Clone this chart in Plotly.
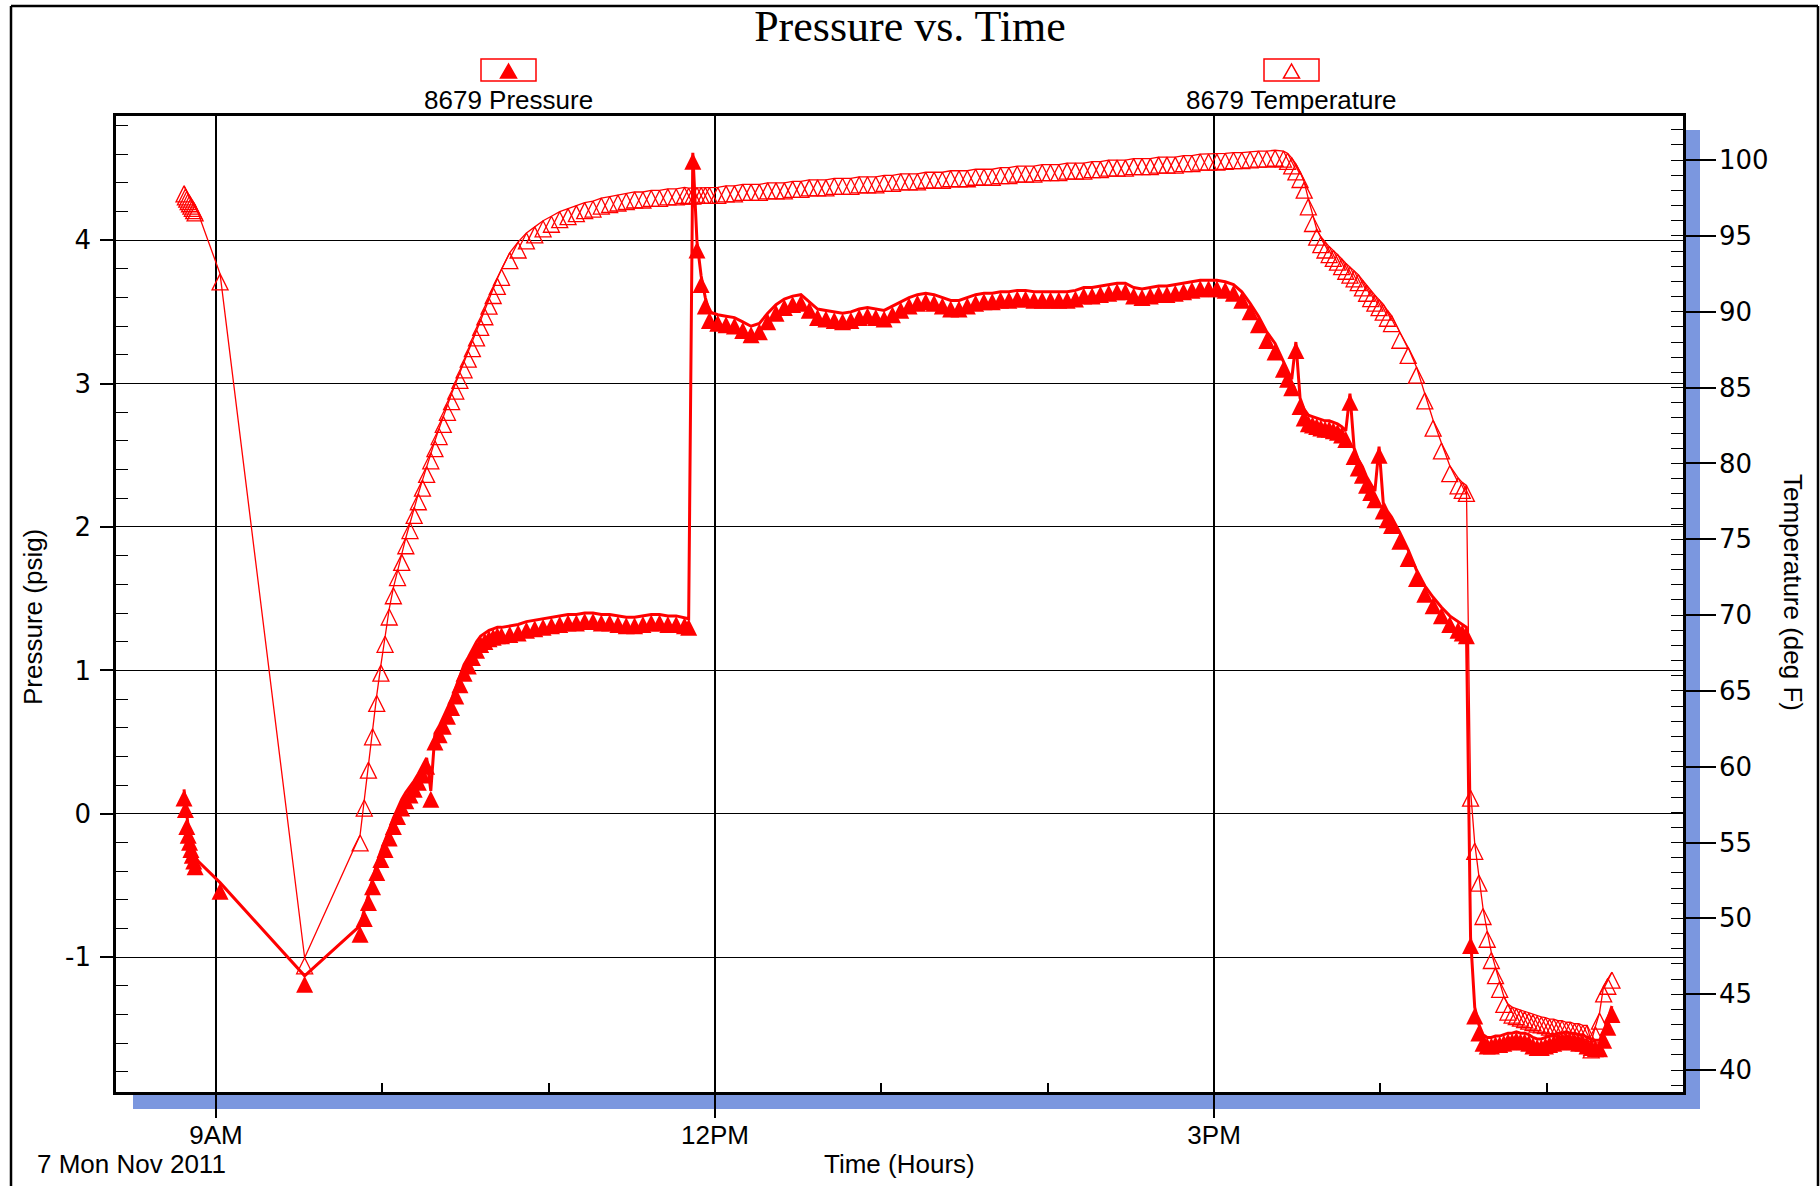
import plotly.graph_objects as go
import pandas as pd

# ---------------- data ----------------
log_date = "2011-11-07"

minutes_of_day = [
    528.5, 529, 529.5, 530, 530.5, 531, 531.5, 532, 532.5,
    541.5, 572,
    592, 593.5, 595, 596.5, 598, 599.5, 601, 602.5, 604, 605.5, 607, 608.5, 610, 611.5,
    613, 614.5, 616, 617.5, 619, 620.5, 622, 623.5, 625, 626.5, 628, 629.5, 631, 632.5,
    634, 635.5, 637, 638.5, 640, 641.5, 643,
    646, 649, 652, 655, 658, 661, 664, 667, 670, 673, 676, 679, 682, 685, 688, 691, 694,
    697, 700, 703, 706, 709,
    710.5, 712, 713.5, 715, 716.5, 718,
    721, 724, 727, 730, 733, 736, 739, 742, 745, 748, 751, 754, 757, 760, 763, 766, 769,
    772, 775, 778, 781, 784, 787, 790, 793, 796, 799, 802, 805, 808, 811, 814, 817, 820,
    823, 826, 829, 832, 835, 838, 841, 844, 847, 850, 853, 856, 859, 862, 865, 868, 871,
    874, 877, 880, 883, 886, 889, 892, 895, 898,
    901, 904, 907, 910, 913, 916, 919, 922, 925,
    926.5, 928, 929.5, 931, 932.5, 934, 935.5, 937, 938.5, 940, 941.5, 943, 944.5, 946,
    947.5, 949, 950.5, 952, 953.5, 955, 956.5, 958, 959.5, 961, 962.5, 964,
    967, 970, 973, 976, 979, 982, 985, 988,
    989.5, 991, 992.5, 994, 995.5, 997, 998.5, 1000, 1001.5, 1003, 1004.5, 1006, 1007.5,
    1009, 1010.5, 1012, 1013.5, 1015, 1016.5, 1018, 1019.5, 1021, 1022.5, 1024, 1025.5,
    1027, 1028.5, 1030, 1031.5, 1033, 1034.5, 1036, 1037.5, 1039, 1040.5, 1042, 1043.5,
]

pressure_psig = [
    0.17, 0.09, -0.03, -0.09, -0.14, -0.19, -0.23, -0.27, -0.31,
    -0.48, -1.13,
    -0.78, -0.67, -0.56, -0.45, -0.35, -0.26, -0.19, -0.11, -0.03, 0.04,
    0.10, 0.15, 0.19, 0.23, 0.28, 0.33, 0.39, 0.16, 0.56, 0.61,
    0.67, 0.74, 0.80, 0.88, 0.96, 1.04, 1.09, 1.15, 1.20, 1.24,
    1.26, 1.28, 1.29, 1.30, 1.30,
    1.31, 1.32, 1.34, 1.35, 1.36, 1.37, 1.38, 1.39, 1.39, 1.40, 1.40, 1.39, 1.39, 1.38,
    1.37, 1.37, 1.38, 1.39, 1.39, 1.38, 1.38, 1.37,
    1.36, 4.61, 3.99, 3.75, 3.60, 3.50,
    3.48, 3.47, 3.46, 3.43, 3.40, 3.42, 3.49, 3.55, 3.59, 3.61,
    3.62, 3.57, 3.52, 3.51, 3.50, 3.49, 3.50, 3.52, 3.53, 3.52,
    3.51, 3.54, 3.57, 3.60, 3.62, 3.63, 3.62, 3.60, 3.58, 3.58,
    3.60, 3.62, 3.63, 3.63, 3.64, 3.64, 3.65, 3.65, 3.64, 3.64,
    3.64, 3.64, 3.64, 3.65, 3.67, 3.67, 3.68, 3.69, 3.70, 3.70,
    3.67, 3.66, 3.67, 3.68, 3.68, 3.69, 3.70, 3.71, 3.72, 3.72,
    3.72, 3.71, 3.69, 3.64, 3.56, 3.47, 3.36, 3.28, 3.16,
    3.09, 3.03, 3.29, 2.90, 2.82, 2.78, 2.77, 2.76, 2.75, 2.74,
    2.74, 2.73, 2.72, 2.70, 2.67, 2.93, 2.55, 2.47, 2.42, 2.35,
    2.30, 2.25, 2.56, 2.17, 2.11, 2.07,
    1.96, 1.84, 1.70, 1.59, 1.51, 1.44, 1.38, 1.34,
    1.32, 1.30, -0.86, -1.35, -1.47, -1.54, -1.56, -1.56, -1.55, -1.55,
    -1.54, -1.53, -1.53, -1.52, -1.53, -1.53, -1.54, -1.56, -1.57, -1.57,
    -1.56, -1.55, -1.54, -1.53, -1.53, -1.52, -1.53, -1.53, -1.54, -1.54,
    -1.56, -1.57, -1.58, -1.58, -1.52, -1.43, -1.34,
]

temperature_degF = [
    98.3, 98.1, 97.95, 97.8, 97.65, 97.5, 97.35, 97.2, 97.05,
    92.5, 47.4,
    55.5, 57.8, 60.3, 62.5, 64.7, 66.7, 68.6, 70.4, 71.8, 73.0,
    74.0, 75.1, 76.1, 77.1, 78.0, 78.9, 79.8, 80.7, 81.5, 82.3,
    83.1, 83.9, 84.6, 85.3, 86.0, 86.7, 87.4, 88.1, 88.8, 89.5,
    90.2, 90.9, 91.6, 92.2, 92.8,
    93.9, 94.6, 95.2, 95.6, 96.0, 96.3, 96.6, 96.8, 97.0, 97.2, 97.3, 97.5, 97.6, 97.7,
    97.8, 97.9, 97.9, 98.0, 98.0, 98.1, 98.1, 98.2,
    98.15, 98.15, 98.2, 98.2, 98.2, 98.2,
    98.2, 98.3, 98.3, 98.4, 98.4, 98.4, 98.5, 98.5, 98.5, 98.6,
    98.6, 98.7, 98.7, 98.7, 98.8, 98.8, 98.8, 98.9, 98.9, 98.9,
    99.0, 99.0, 99.1, 99.1, 99.1, 99.2, 99.2, 99.2, 99.3, 99.3,
    99.3, 99.4, 99.4, 99.4, 99.5, 99.5, 99.6, 99.6, 99.6, 99.7,
    99.7, 99.7, 99.8, 99.8, 99.8, 99.9, 99.9, 100.0, 100.0, 100.0,
    100.1, 100.1, 100.1, 100.2, 100.2, 100.2, 100.3, 100.3, 100.4, 100.4,
    100.4, 100.45, 100.5, 100.5, 100.55, 100.6, 100.6, 100.65, 100.6,
    100.45, 100.15, 99.75, 99.25, 98.55, 97.45, 96.35, 95.45, 94.95, 94.6,
    94.3, 94.05, 93.8, 93.5, 93.2, 92.95, 92.7, 92.45, 92.1, 91.75,
    91.4, 91.1, 90.8, 90.5, 90.1, 89.75,
    88.65, 87.65, 86.35, 84.65, 82.85, 81.35, 79.85, 79.05,
    78.75, 78.55, 58.45, 54.95, 52.85, 50.65, 49.15, 47.75, 46.75, 45.85,
    44.85, 44.35, 44.15, 44.05, 43.95, 43.85, 43.75, 43.65, 43.55, 43.5,
    43.45, 43.35, 43.35, 43.25, 43.25, 43.15, 43.15, 43.05, 43.05, 42.95,
    42.95, 41.85, 42.85, 43.75, 45.55, 46.05, 46.45,
]

pressure_tick_vals = [-1, 0, 1, 2, 3, 4]
pressure_tick_text = ["-1", "0", "1", "2", "3", "4"]
pressure_range = [-1.94, 4.866]
temperature_range = [38.55, 102.91]
time_range = ["2011-11-07 08:23:58", "2011-11-07 17:49:07"]

series_names = ["8679 Pressure", "8679 Temperature"]

# ---------------- figure ----------------
times = pd.Timestamp(log_date) + pd.to_timedelta(minutes_of_day, unit="m")

RED = "#ff0000"
W, H = 1820, 1186
L, R, T, B = 116, 1683, 116, 1092


def px(xp):
    return (xp - L) / (R - L)


def py(yp):
    return (B - yp) / (B - T)


fig = go.Figure()
fig.add_trace(go.Scatter(
    x=times, y=pressure_psig, name=series_names[0], mode="lines+markers",
    line=dict(color=RED, width=3, backoff=0),
    marker=dict(symbol="arrow-up", size=17, color=RED, line=dict(width=0)),
    yaxis="y",
))
fig.add_trace(go.Scatter(
    x=times, y=temperature_degF, name=series_names[1], mode="lines+markers",
    line=dict(color=RED, width=1.3, backoff=0),
    marker=dict(symbol="arrow-up-open", size=16, color=RED,
                line=dict(width=1.3, color=RED)),
    yaxis="y2",
))

tick_font_x = dict(family="Liberation Sans", size=26, color="black")
tick_font_y = dict(family="DejaVu Sans", size=26, color="black")
text_font = dict(family="Liberation Sans", size=26, color="black")

fig.update_layout(
    width=W, height=H,
    margin=dict(l=L, r=W - R, t=T, b=H - B, pad=0),
    paper_bgcolor="white", plot_bgcolor="white",
    showlegend=False,
    title=dict(text="Pressure vs. Time", x=0.5, xanchor="center", xref="container",
               y=1 - 26 / H, yanchor="middle", yref="container",
               font=dict(family="Liberation Serif", size=44, color="black")),
    xaxis=dict(
        type="date", range=time_range,
        tick0="2011-11-07 09:00", dtick=3 * 3600000, tickformat="%-I%p",
        ticks="outside", ticklen=23, tickwidth=2, tickcolor="black",
        ticklabelstandoff=-5, tickfont=tick_font_x,
        showgrid=True, gridcolor="black", gridwidth=1.6,
        showline=True, linecolor="black", linewidth=2.5, mirror=True,
        zeroline=False,
        minor=dict(tick0="2011-11-07 09:00", dtick=3600000, ticks="inside",
                   ticklen=9, tickwidth=1.5, tickcolor="black", showgrid=False),
    ),
    yaxis=dict(
        range=pressure_range, tickmode="array",
        tickvals=pressure_tick_vals, ticktext=pressure_tick_text,
        ticks="outside", ticklen=13, tickwidth=1.5, tickcolor="black",
        ticklabelstandoff=4, tickfont=tick_font_y,
        showgrid=True, gridcolor="black", gridwidth=1,
        showline=True, linecolor="black", linewidth=2.5, zeroline=False,
        minor=dict(tickmode="linear", tick0=0, dtick=0.2, ticks="inside",
                   ticklen=12, tickwidth=1, tickcolor="black", showgrid=False),
    ),
    yaxis2=dict(
        overlaying="y", side="right", range=temperature_range,
        tick0=0, dtick=5,
        ticks="outside", ticklen=30, tickwidth=1.5, tickcolor="black",
        ticklabelstandoff=-2, tickfont=tick_font_y,
        showgrid=False, showline=True, linecolor="black", linewidth=2.5,
        zeroline=False,
        minor=dict(tick0=0, dtick=1, ticks="inside", ticklen=12, tickwidth=1,
                   tickcolor="black", showgrid=False),
    ),
)

shapes = []
# blue drop shadow of the plot frame
shapes.append(dict(type="rect", xref="paper", yref="paper", layer="below",
                   x0=px(133), x1=px(1700), y0=py(1109), y1=py(1092),
                   fillcolor="#7b97df", line=dict(width=0)))
shapes.append(dict(type="rect", xref="paper", yref="paper", layer="below",
                   x0=px(1683), x1=px(1700), y0=py(1109), y1=py(130),
                   fillcolor="#7b97df", line=dict(width=0)))
# outer frame
for (x0, y0, x1, y1) in [(11, 6, 1818, 6), (11, 6, 11, 1200), (1818, 6, 1818, 1200)]:
    shapes.append(dict(type="line", xref="paper", yref="paper",
                       x0=px(x0), y0=py(y0), x1=px(x1), y1=py(y1),
                       line=dict(color="black", width=2.5)))
# legend boxes and symbols
for cx, filled in [(508.5, True), (1291.5, False)]:
    shapes.append(dict(type="rect", xref="paper", yref="paper",
                       x0=px(cx - 27.5), x1=px(cx + 27.5), y0=py(81), y1=py(59),
                       line=dict(color=RED, width=1.5), fillcolor="rgba(0,0,0,0)"))
    path = "M {:.5f},{:.5f} L {:.5f},{:.5f} L {:.5f},{:.5f} Z".format(
        px(cx), py(64), px(cx - 8), py(78), px(cx + 8), py(78))
    shapes.append(dict(type="path", xref="paper", yref="paper", path=path,
                       fillcolor=RED if filled else "rgba(0,0,0,0)",
                       line=dict(color=RED, width=1.5)))
fig.update_layout(shapes=shapes)

annotations = [
    dict(text=series_names[0], x=px(508.5), y=py(100)),
    dict(text=series_names[1], x=px(1291.5), y=py(100)),
    dict(text="Time (Hours)", x=px(899.6), y=py(1164)),
    dict(text="7 Mon Nov 2011", x=px(35), y=py(1164), xanchor="left"),
    dict(text="Pressure (psig)", x=px(33), y=py(617), textangle=-90),
    dict(text="Temperature (deg F)", x=px(1793), y=py(592), textangle=90),
]
for a in annotations:
    a.setdefault("xanchor", "center")
    a.update(xref="paper", yref="paper", yanchor="middle", showarrow=False,
             font=text_font)
fig.update_layout(annotations=annotations)

fig.write_html(
    "out.html",
    config={"displayModeBar": False},
    post_script="document.body.style.margin='0';document.body.style.overflow='hidden';",
)
